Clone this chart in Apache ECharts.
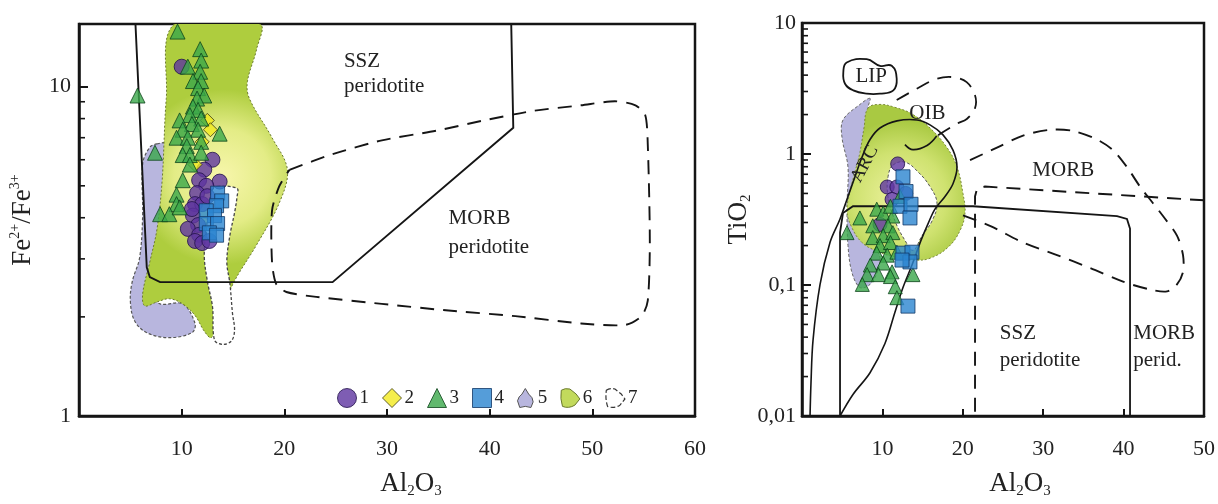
<!DOCTYPE html>
<html><head><meta charset="utf-8">
<script src="https://cdn.jsdelivr.net/npm/echarts/dist/echarts.min.js"></script>
<style>html,body{margin:0;padding:0;background:#fff}#c{width:1218px;height:504px}</style>
</head><body><div id="c"></div>
<script>
const FONT = '"Liberation Serif","Times New Roman",Times,serif';

// ---------- LEFT PANEL: Al2O3 vs Fe2+/Fe3+ ----------
const leftXRange = [0, 60];
const leftYRange = [1, 15.5];
const leftYLabels = {1: '1', 10: '10'};
const leftMinorTicks = [2, 3, 4, 5, 6, 7, 8, 9];

const leftLavender = [[7.6,6.7],[8.5,6.7],[8.6,4.65],[7.9,3.1],[6.9,2.35],[7.9,2.19],[10.1,2.19],[11.3,1.91],[11.0,1.79],[8.8,1.73],[6.6,1.79],[5.4,1.95],[5.0,2.24],[5.2,2.57],[5.9,3.02],[6.2,4.06],[6.2,5.83],[6.9,6.55]];
const leftGreen = [[9.3,15.5],[8.5,9.2],[8.1,5.2],[7.6,3.7],[6.9,2.94],[6.2,2.35],[6.4,2.16],[7.6,2.22],[8.8,2.27],[10.1,2.19],[11.3,2.02],[12.2,1.81],[12.9,1.73],[13.9,2.05],[15.0,2.52],[17.3,3.31],[19.5,4.43],[20.3,5.59],[18.8,7.0],[16.6,9.2],[16.4,10.35],[17.3,13.0],[17.6,15.5]];
const leftWhite = [[13.5,4.98],[15.4,4.91],[15.4,4.65],[15.15,4.14],[14.7,3.54],[14.4,2.94],[14.7,2.52],[14.95,2.05],[15.15,1.82],[14.85,1.69],[14.0,1.65],[13.2,1.70],[13.0,2.15],[12.5,2.57],[12.2,3.09],[12.5,3.92],[12.9,4.81]];
const leftSSZ = [[5.5,15.5],[6.6,2.83],[6.9,2.64],[7.9,2.55],[24.7,2.55],[42.3,7.5],[42.1,15.5]];
const leftMORB = [[20.5,5.59],[24.7,6.24],[29.5,6.87],[34.8,7.35],[39.2,7.87],[44.1,8.43],[48.9,8.78],[52.2,9.03],[54.2,8.78],[55.15,8.2],[55.4,6.68],[55.6,3.38],[55.4,2.24],[54.8,2.01],[53.2,1.89],[48.9,1.91],[42.5,2.01],[36.0,2.09],[29.5,2.19],[23.1,2.30],[20.2,2.38],[19.2,2.52],[18.8,2.94],[18.8,4.20],[19.5,4.98],[20.5,5.59]];

const leftCircles = [[10.0,11.5],[13.0,6.0],[12.2,5.6],[13.7,5.15],[11.7,5.2],[12.4,5.0],[11.5,4.75],[11.3,4.4],[12.0,4.4],[11.1,4.06],[11.6,3.8],[10.6,3.7],[11.7,3.55],[11.3,3.4],[12.0,3.35],[12.7,3.4],[11.0,4.25],[12.5,4.65]];
const leftDiamonds = [[12.5,7.9],[12.8,7.4],[12.0,6.8],[11.3,5.8]];
const leftTriangles = [[9.6,14.7],[5.7,9.4],[11.8,13.0],[11.9,12.0],[10.6,11.5],[11.8,11.1],[11.1,10.4],[11.9,10.4],[11.6,9.9],[12.2,9.4],[11.5,9.2],[11.1,8.7],[11.6,8.5],[10.8,8.2],[11.9,8.0],[9.8,7.9],[11.0,7.7],[10.1,7.4],[11.6,7.4],[9.5,7.0],[10.6,7.0],[13.7,7.2],[11.9,6.8],[10.5,6.6],[10.1,6.2],[10.8,6.2],[11.9,6.3],[10.8,5.8],[10.1,5.2],[9.5,4.7],[9.5,4.4],[7.9,4.1],[8.8,4.1],[9.8,4.3],[7.4,6.3]];
const leftSquares = [[13.5,4.75],[13.9,4.5],[13.4,4.35],[12.4,4.2],[13.2,4.06],[12.4,3.84],[13.5,3.84],[12.7,3.6],[13.4,3.54]];

const leftTexts = [['SSZ',25.8,11.95],['peridotite',25.8,10.0],['MORB',36.0,3.98],['peridotite',36.0,3.26]];

// ---------- RIGHT PANEL: Al2O3 vs TiO2 ----------
const rightXRange = [0, 50];
const rightYRange = [0.01, 10];
const rightMinorTicks = [0.02,0.03,0.04,0.05,0.06,0.07,0.08,0.09,0.2,0.3,0.4,0.5,0.6,0.7,0.8,0.9,2,3,4,5,6,7,8,9];

const rightLavender = [[8.46,2.66],[7.21,2.39],[5.10,1.82],[4.98,1.33],[5.72,0.795],[5.60,0.399],[5.72,0.200],[6.22,0.124],[7.21,0.0957],[8.46,0.101],[9.45,0.130],[9.70,0.163],[9.08,0.200],[8.21,2.24]];
const rightGreen = [[8.21,2.24],[9.70,2.39],[11.57,2.27],[13.68,2.02],[15.92,1.58],[18.03,1.12],[19.28,0.795],[20.02,0.50],[20.27,0.354],[19.65,0.26],[18.16,0.194],[15.92,0.160],[14.05,0.155],[11.57,0.163],[9.08,0.184],[7.46,0.211],[6.22,0.273],[5.60,0.366],[5.97,0.517],[6.59,0.730],[7.21,1.03],[7.71,1.58]];
const rightWhite = [[11.32,0.823],[12.81,0.867],[14.43,0.730],[15.92,0.564],[16.79,0.421],[16.17,0.308],[14.93,0.238],[13.81,0.184],[12.81,0.219],[11.57,0.308],[10.70,0.474],[10.70,0.67]];
const rightLIP = [[5.56,5.0],[8.05,5.29],[9.70,4.71],[11.16,4.71],[11.78,3.75],[11.36,3.06],[9.70,2.89],[8.05,2.89],[6.38,3.06],[5.35,3.44],[5.14,4.21]];
const rightOIB = [[11.78,2.58],[14.27,3.15],[16.75,3.75],[18.82,3.86],[20.48,3.54],[21.52,2.81],[21.52,2.24],[20.5,1.85],[19.24,1.70],[16.75,1.37]];
const rightOIBHook = [[16.75,1.37],[15.55,1.16],[13.8,1.08],[12.8,1.18]];
const rightARC = [[1.0,0.01],[1.12,0.018],[1.37,0.0378],[2.24,0.1007],[3.48,0.211],[4.73,0.319],[5.72,0.474],[6.59,0.67],[7.46,0.944],[8.46,1.29],[9.70,1.58],[11.82,1.79],[14.30,1.82],[15.92,1.67],[17.54,1.40],[18.78,1.07],[19.28,0.795],[18.78,0.593],[17.79,0.474],[16.54,0.379],[15.67,0.293],[14.80,0.219],[13.68,0.142],[12.56,0.0957],[11.57,0.0622],[10.32,0.0358],[8.46,0.0214],[6.34,0.0146],[4.73,0.01]];
const rightSSZ = [[4.73,0.01],[4.73,0.251],[5.10,0.354],[6.34,0.399],[21.27,0.399],[39.18,0.336],[40.42,0.319],[40.80,0.269],[40.80,0.01]];
const rightSSZDash = [[50,0.443],[22.76,0.564],[21.77,0.544],[21.52,0.474],[21.52,0.01]];
const rightMORB = [[20.9,0.897],[24.25,1.12],[27.49,1.38],[30.85,1.53],[33.71,1.50],[36.69,1.29],[38.68,1.07],[40.42,0.795],[42.04,0.564],[43.66,0.421],[44.90,0.336],[46.64,0.238],[47.39,0.169],[47.39,0.126],[46.64,0.101],[45.40,0.0893],[43.28,0.0924],[39.93,0.106],[35.82,0.135],[31.72,0.169],[27.49,0.211],[23.38,0.283],[19.28,0.354]];

const rightCircles = [[11.9,0.84],[10.6,0.56],[11.8,0.56],[12.9,0.5],[9.7,0.29],[11.2,0.45]];
const rightTriangles = [[7.2,0.325],[5.6,0.251],[9.3,0.379],[10.1,0.354],[11.3,0.336],[12.2,0.474],[11.0,0.399],[8.8,0.283],[10.7,0.283],[8.8,0.23],[10.1,0.238],[11.3,0.251],[9.7,0.2],[11.0,0.211],[9.3,0.175],[10.6,0.169],[11.8,0.178],[8.5,0.142],[10.1,0.147],[11.2,0.126],[8.1,0.12],[9.5,0.12],[11.0,0.116],[7.5,0.101],[11.6,0.097],[13.8,0.12],[11.8,0.08]];
const rightSquares = [[12.56,0.67],[12.94,0.517],[12.19,0.399],[13.56,0.413],[13.43,0.325],[12.56,0.175],[13.68,0.178],[13.43,0.150],[12.44,0.155],[13.18,0.069]];

const rightTexts = [['SSZ',24.6,0.0426],['peridotite',24.6,0.0267],['MORB',41.2,0.0426],['perid.',41.2,0.0267]];
const rightCenterTexts = [['LIP',8.6,3.88],['OIB',15.6,2.05],['MORB',32.5,0.755]];
const arcText = ['ARC', 7.8, 0.84];

// ---------- styles ----------
const C = {
  circle: {color:'#5e35a0', borderColor:'#22124a', borderWidth:1},
  diamond: {color:'#f3ea1e', borderColor:'#3b3a12', borderWidth:1},
  triangle: {color:'#3aa84a', borderColor:'#0e431b', borderWidth:1},
  square: {color:'#2b84cf', borderColor:'#133866', borderWidth:1},
  lav: '#b8b6de', green: '#c2da5c', ink: '#151515'
};

function shape(name, pts, gi, o) {
  return {
    type:'custom', name: name, xAxisIndex:gi, yAxisIndex:gi, z:o.z||2, clip:true, silent:true,
    itemStyle: o.itemStyle || {color: o.fill || C.ink},
    data:[pts[0]],
    renderItem: function (params, api) {
      const p = pts.map(d => api.coord(d));
      return {
        type: o.closed ? 'polygon' : 'polyline',
        shape: {points:p, smooth:o.smooth||0},
        style: {fill: o.closed ? o.fill : null, stroke: o.stroke || C.ink, lineWidth: o.lw || 1.8, lineDash: o.dash || null}
      };
    }
  };
}
function pts(name, data, gi, symbol, style, size) {
  return {type:'scatter', name:name, xAxisIndex:gi, yAxisIndex:gi, z:3, symbol:symbol, symbolSize:size||14, itemStyle:style, data:data, silent:true};
}
function texts(items, gi, align, size) {
  return {
    type:'custom', xAxisIndex:gi, yAxisIndex:gi, z:4, silent:true, data:[[items[0][1], items[0][2]]],
    renderItem: function (params, api) {
      return {type:'group', children: items.map(t => {
        const p = api.coord([t[1], t[2]]);
        return {type:'text', x:p[0], y:p[1], style:{text:t[0], fill:'#222', font: size + 'px ' + FONT, align:align, verticalAlign:'middle'}};
      })};
    }
  };
}
function minorTicks(vals, gi, xmin, len) {
  return {
    type:'custom', xAxisIndex:gi, yAxisIndex:gi, z:5, silent:true, data:[[xmin, vals[0]]],
    renderItem: function (params, api) {
      return {type:'group', children: vals.map(v => {
        const p = api.coord([xmin, v]);
        return {type:'line', shape:{x1:p[0], y1:p[1], x2:p[0]+len, y2:p[1]}, style:{stroke:C.ink, lineWidth:1.6}};
      })};
    }
  };
}
const greenGradL = new echarts.graphic.RadialGradient(0.55, 0.5, 0.6, [{offset:0, color:'#f7f6ab'},{offset:0.55, color:'#e3ec86'},{offset:1, color:'#aecd3e'}]);
const greenGradR = new echarts.graphic.RadialGradient(0.45, 0.6, 0.65, [{offset:0, color:'#eef2a0'},{offset:0.6, color:'#cfe270'},{offset:1, color:'#a9c942'}]);

const axisLabelStyle = {fontFamily:FONT, fontSize:22, color:'#222'};
function xAxis(gi, range, nameShift) {
  return {
    gridIndex:gi, type:'value', min:range[0], max:range[1], interval:10,
    axisLine:{show:true, lineStyle:{color:C.ink, width:2.5}},
    axisTick:{inside:true, length:7, lineStyle:{color:C.ink, width:2}},
    splitLine:{show:false},
    axisLabel:Object.assign({margin:22, formatter: v => v === 0 ? '' : String(v)}, axisLabelStyle),
    name:'Al{s|2}O{s|3}', nameLocation:'middle', nameGap:53,
    nameTextStyle:{fontFamily:FONT, fontSize:27, color:'#222', lineHeight:30, padding:[0,0,0,nameShift],
      rich:{s:{fontFamily:FONT, fontSize:15, color:'#222', lineHeight:14, verticalAlign:'bottom'}}}
  };
}
function fmtNum(v) { return String(+(+v).toPrecision(3)).replace('.', ','); }

const option = {
  animation:false, backgroundColor:'#fff',
  grid:[
    {left:79, top:24, width:616, height:401, show:true, borderColor:C.ink, borderWidth:2.5, backgroundColor:'transparent'},
    {left:802, top:23, width:402, height:401, show:true, borderColor:C.ink, borderWidth:2.5, backgroundColor:'transparent'}
  ],
  xAxis:[xAxis(0, leftXRange, 48), xAxis(1, rightXRange, 34)],
  yAxis:[
    {gridIndex:0, type:'log', logBase:10, min:leftYRange[0], max:leftYRange[1],
     axisLine:{show:true, lineStyle:{color:C.ink, width:2.5}},
     axisTick:{inside:true, length:9, lineStyle:{color:C.ink, width:2}},
     splitLine:{show:false}, minorTick:{show:false},
     axisLabel:Object.assign({margin:8, formatter: v => { const k = Math.round(v); return Math.abs(v-k) < 1e-6 && leftYLabels[k] ? leftYLabels[k] : ''; }}, axisLabelStyle),
     name:'Fe{p|2+}/Fe{p|3+}', nameLocation:'middle', nameGap:36,
     nameTextStyle:{fontFamily:FONT, fontSize:27, color:'#222', lineHeight:30,
       rich:{p:{fontFamily:FONT, fontSize:14, color:'#222', lineHeight:14, verticalAlign:'top'}}}},
    {gridIndex:1, type:'log', logBase:10, min:rightYRange[0], max:rightYRange[1],
     axisLine:{show:true, lineStyle:{color:C.ink, width:2.5}},
     axisTick:{inside:true, length:9, lineStyle:{color:C.ink, width:2}},
     splitLine:{show:false},
     axisLabel:Object.assign({margin:6, formatter: fmtNum}, axisLabelStyle),
     name:'TiO{s|2}', nameLocation:'middle', nameGap:42,
     nameTextStyle:{fontFamily:FONT, fontSize:27, color:'#222', lineHeight:30,
       rich:{s:{fontFamily:FONT, fontSize:15, color:'#222', lineHeight:14, verticalAlign:'bottom'}}}}
  ],
  legend:{
    left:332, top:383, itemWidth:19, itemHeight:19, itemGap:13, selectedMode:false,
    textStyle:{fontFamily:FONT, fontSize:19, color:'#222', padding:[0,0,0,-2]},
    data:[
      {name:'1', icon:'circle', itemStyle:C.circle},
      {name:'2', icon:'diamond', itemStyle:C.diamond},
      {name:'3', icon:'triangle', itemStyle:C.triangle},
      {name:'4', icon:'rect', itemStyle:C.square},
      {name:'5', icon:'path://M4,18 L2,12 Q3,8 6,6 L9,1 L12,6 Q16,9 16,13 L14,18 Q9,16 4,18 Z', itemStyle:{color:C.lav, borderColor:'#555', borderWidth:1}},
      {name:'6', icon:'path://M2,3 Q5,1 9,2 L14,6 L17,10 L13,15 Q8,18 3,16 Q1,10 2,3 Z', itemStyle:{color:C.green, borderColor:'#6b7a30', borderWidth:1}},
      {name:'7', icon:'path://M2,3 Q5,1 9,2 L14,6 L17,10 L13,15 Q8,18 3,16 Q1,10 2,3 Z', itemStyle:{color:'#fff', borderColor:'#333', borderWidth:1.2, borderType:'dashed'}}
    ]
  },
  series:[
    shape('5', leftLavender, 0, {closed:true, fill:C.lav, stroke:'#555', lw:1.2, dash:[3,2], smooth:0.35, z:1, itemStyle:{color:C.lav}}),
    shape('6', leftGreen, 0, {closed:true, fill:greenGradL, stroke:'#6b7a30', lw:1, dash:[2,2], smooth:0.35, z:1, itemStyle:{color:C.green}}),
    shape('7', leftWhite, 0, {closed:true, fill:'#fff', stroke:'#444', lw:1.3, dash:[3,2], smooth:0.35, z:1, itemStyle:{color:'#fff'}}),
    shape('', leftSSZ, 0, {stroke:C.ink, lw:1.9}),
    shape('', leftMORB, 0, {stroke:C.ink, lw:1.9, dash:[14,9], smooth:0.25}),
    pts('1', leftCircles, 0, 'circle', C.circle, 15),
    pts('2', leftDiamonds, 0, 'diamond', C.diamond, 14),
    pts('3', leftTriangles, 0, 'triangle', C.triangle, 15),
    pts('4', leftSquares, 0, 'rect', C.square, 14),
    texts(leftTexts, 0, 'left', 21),
    minorTicks(leftMinorTicks, 0, leftXRange[0], 6),

    shape('5', rightLavender, 1, {closed:true, fill:C.lav, stroke:'#666', lw:1, dash:[3,2], smooth:0.35, z:1, itemStyle:{color:C.lav}}),
    shape('6', rightGreen, 1, {closed:true, fill:greenGradR, stroke:'#7b8a3a', lw:1, dash:[2,2], smooth:0.4, z:1, itemStyle:{color:C.green}}),
    shape('7', rightWhite, 1, {closed:true, fill:'#fff', stroke:'#555', lw:1, dash:[3,2], smooth:0.4, z:1, itemStyle:{color:'#fff'}}),
    shape('', rightLIP, 1, {closed:true, fill:'rgba(0,0,0,0)', stroke:C.ink, lw:1.8, smooth:0.45}),
    shape('', rightOIB, 1, {stroke:C.ink, lw:1.8, dash:[14,9], smooth:0.35}),
    shape('', rightOIBHook, 1, {stroke:C.ink, lw:1.6, smooth:0.4}),
    shape('', rightARC, 1, {stroke:C.ink, lw:1.6, smooth:0.35}),
    shape('', rightSSZ, 1, {stroke:C.ink, lw:1.8}),
    shape('', rightSSZDash, 1, {stroke:C.ink, lw:1.9, dash:[14,9]}),
    shape('', rightMORB, 1, {stroke:C.ink, lw:1.9, dash:[14,9], smooth:0.3}),
    pts('1', rightCircles, 1, 'circle', C.circle, 14),
    pts('3', rightTriangles, 1, 'triangle', C.triangle, 14),
    pts('4', rightSquares, 1, 'rect', C.square, 14),
    texts(rightTexts, 1, 'left', 21),
    texts(rightCenterTexts, 1, 'center', 21),
    {
      type:'custom', xAxisIndex:1, yAxisIndex:1, z:4, silent:true, data:[[arcText[1], arcText[2]]],
      renderItem: function (params, api) {
        const p = api.coord([arcText[1], arcText[2]]);
        return {type:'text', x:p[0], y:p[1], rotation:62*Math.PI/180,
          style:{text:arcText[0], fill:'#222', font:'19px ' + FONT, align:'center', verticalAlign:'middle'}};
      }
    },
    minorTicks(rightMinorTicks, 1, rightXRange[0], 6)
  ]
};
const chart = echarts.init(document.getElementById('c'), null, {renderer:'canvas'});
chart.setOption(option);
</script></body></html>
